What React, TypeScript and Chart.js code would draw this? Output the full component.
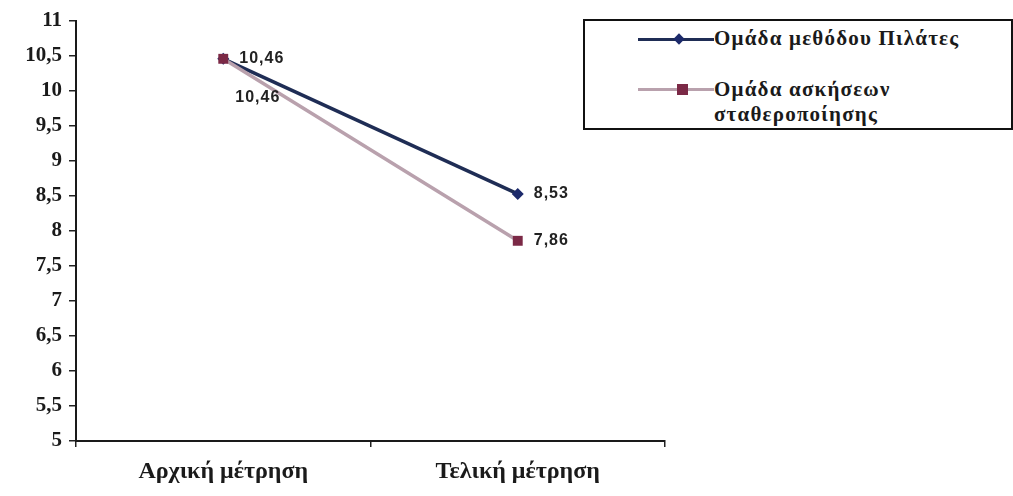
import React, { useEffect, useRef } from "react";
import { Chart, registerables } from "chart.js";

Chart.register(...registerables);

const categories = ["Αρχική μέτρηση", "Τελική μέτρηση"];
const seriesNames = ["Ομάδα μεθόδου Πιλάτες", "Ομάδα ασκήσεων σταθεροποίησης"];
const pilatesValues = [10.46, 8.53];
const stabilizationValues = [10.46, 7.86];
const yMin = 5;
const yMax = 11;
const yStep = 0.5;

const NAVY = "#1f2d55";
const NAVY_MARK = "#1c2a6b";
const MAUVE = "#b9a1ad";
const MAROON = "#7b2946";

const fmt = (v: number) => String(v).replace(".", ",");

const labelOffsets: Record<string, [number, number][]> = {
  "0": [[16, 0], [16, 0]],
  "1": [[12, 39], [16, 0]],
};

const dataLabelPlugin = {
  id: "dataLabels",
  afterDatasetsDraw(chart: any) {
    const ctx = chart.ctx;
    ctx.save();
    ctx.font = "bold 16px 'Liberation Sans', Arial, sans-serif";
    try {
      (ctx as any).letterSpacing = "1px";
    } catch (e) {}
    ctx.fillStyle = "#222";
    ctx.textAlign = "left";
    ctx.textBaseline = "middle";
    chart.data.datasets.forEach((ds: any, di: number) => {
      const meta = chart.getDatasetMeta(di);
      meta.data.forEach((pt: any, i: number) => {
        const off = labelOffsets[String(di)][i];
        ctx.fillText(fmt(ds.data[i]), pt.x + off[0], pt.y + off[1]);
      });
    });
    ctx.restore();
  },
};

export default function App() {
  const ref = useRef<HTMLCanvasElement | null>(null);

  useEffect(() => {
    document.body.style.margin = "0";
    const canvas = ref.current!;
    const chart = new Chart(canvas, {
      type: "line",
      data: {
        labels: categories,
        datasets: [
          {
            label: seriesNames[0],
            data: pilatesValues,
            borderColor: NAVY,
            backgroundColor: NAVY_MARK,
            borderWidth: 3.5,
            pointStyle: "rectRot",
            pointRadius: 6,
            pointBorderWidth: 0,
            pointBackgroundColor: NAVY_MARK,
            order: 1,
          },
          {
            label: seriesNames[1],
            data: stabilizationValues,
            borderColor: MAUVE,
            backgroundColor: MAROON,
            borderWidth: 3.5,
            pointStyle: "rect",
            pointRadius: 7,
            pointBorderWidth: 0,
            pointBackgroundColor: MAROON,
            order: 0,
          },
        ],
      },
      options: {
        animation: false,
        responsive: false,
        devicePixelRatio: 1,
        layout: { padding: { top: 21, right: 348, left: 0, bottom: 0 } },
        plugins: { legend: { display: false }, tooltip: { enabled: false } },
        scales: {
          x: {
            type: "category",
            offset: true,
            grid: {
              offset: true,
              drawOnChartArea: false,
              drawTicks: true,
              tickLength: 6,
              color: "#222",
              lineWidth: 1.5,
            },
            border: { display: true, color: "#1a1a1a", width: 2 },
            ticks: {
              color: "#1a1a1a",
              padding: 10,
              font: { family: "'Liberation Serif', 'Times New Roman', serif", size: 24, weight: "bold" },
            },
            afterFit: (s: any) => {
              s.height = 55;
            },
          },
          y: {
            min: yMin,
            max: yMax,
            grid: {
              drawOnChartArea: false,
              drawTicks: true,
              tickLength: 7,
              color: "#222",
              lineWidth: 1.5,
            },
            border: { display: true, color: "#1a1a1a", width: 2 },
            ticks: {
              stepSize: yStep,
              color: "#1a1a1a",
              padding: 7,
              callback: (v: any) => fmt(Number(v)),
              font: { family: "'Liberation Serif', 'Times New Roman', serif", size: 21, weight: "bold" },
            },
            afterFit: (s: any) => {
              s.width = 76;
            },
          },
        },
      },
      plugins: [dataLabelPlugin],
    } as any);
    return () => chart.destroy();
  }, []);

  const legendText: React.CSSProperties = {
    fontFamily: "'Liberation Serif', 'Times New Roman', serif",
    fontWeight: "bold",
    fontSize: 21,
    letterSpacing: "1.2px",
    color: "#1a1a1a",
    lineHeight: "25px",
  };

  return (
    <div style={{ position: "relative", width: 1013, height: 496, background: "#fff" }}>
      <canvas ref={ref} width={1013} height={496} style={{ display: "block" }} />
      <div
        style={{
          position: "absolute",
          left: 583,
          top: 19,
          width: 426,
          height: 107,
          border: "2px solid #111",
          boxSizing: "content-box",
          overflow: "hidden",
          background: "#fff",
        }}
      >
        <div style={{ position: "absolute", left: 53, top: 17, width: 76, height: 3, background: NAVY }} />
        <div
          style={{
            position: "absolute",
            left: 90,
            top: 14,
            width: 8,
            height: 8,
            background: NAVY_MARK,
            transform: "rotate(45deg)",
          }}
        />
        <div style={{ ...legendText, position: "absolute", left: 129, top: 5, whiteSpace: "nowrap" }}>
          {seriesNames[0]}
        </div>
        <div style={{ position: "absolute", left: 53, top: 67, width: 76, height: 3, background: MAUVE }} />
        <div
          style={{ position: "absolute", left: 92, top: 63, width: 11, height: 11, background: MAROON }}
        />
        <div style={{ ...legendText, position: "absolute", left: 129, top: 56, width: 220 }}>
          {seriesNames[1]}
        </div>
      </div>
    </div>
  );
}
